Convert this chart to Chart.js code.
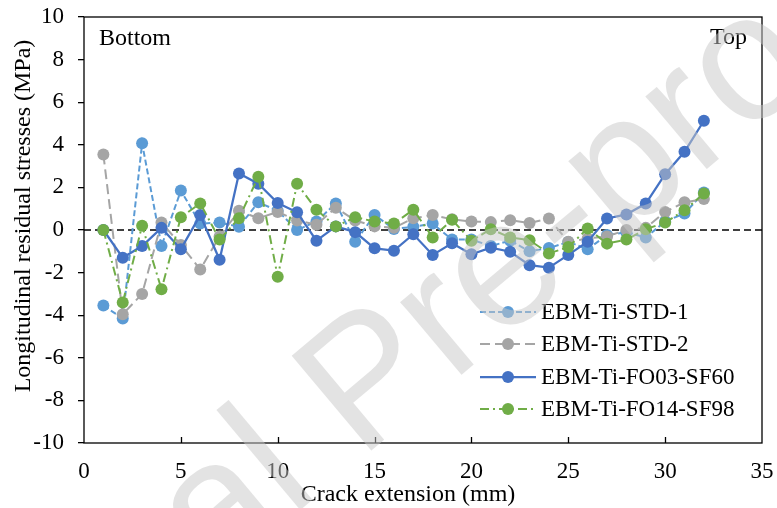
<!DOCTYPE html>
<html>
<head>
<meta charset="utf-8">
<script src="https://cdn.jsdelivr.net/npm/chart.js@4.4.1/dist/chart.umd.min.js"></script>
<style>
  html, body { margin: 0; padding: 0; background: #fff; }
  #wrap { width: 777px; height: 508px; }
</style>
</head>
<body>
<div id="wrap"><canvas id="stressChart" width="777" height="508"></canvas></div>
<script>
// Crack extension positions (mm)
const crackExt = [1, 2, 3, 4, 5, 6, 7, 8, 9, 10, 11, 12, 13, 14, 15, 16,
                  17, 18, 19, 20, 21, 22, 23, 24, 25, 26, 27, 28, 29, 30, 31, 32];

// Longitudinal residual stresses (MPa) per specimen
const std1 = [-3.55, -4.15, 4.07, -0.75, 1.85, 0.3, 0.35, 0.15, 1.3, 0.9, 0.0, 0.4,
              1.25, -0.55, 0.7, 0.05, 0.15, 0.3, -0.45, -0.45, -0.75, -0.5, -1.0, -0.85,
              -0.56, -0.9, -0.24, -0.1, -0.35, 0.4, 0.78, 1.76];
const std2 = [3.55, -3.95, -3.0, 0.35, -0.7, -1.85, -0.3, 0.9, 0.55, 0.85, 0.45, 0.25,
              1.05, 0.45, 0.17, 0.1, 0.55, 0.7, 0.5, 0.4, 0.37, 0.46, 0.33, 0.54,
              -0.55, -0.4, -0.3, 0.0, 0.1, 0.85, 1.3, 1.45];
const fo03 = [0.0, -1.3, -0.75, 0.1, -0.9, 0.7, -1.4, 2.65, 2.17, 1.27, 0.83, -0.5,
              0.17, -0.1, -0.86, -0.97, -0.2, -1.17, -0.62, -1.14, -0.83, -1.02, -1.65, -1.77,
              -1.17, -0.55, 0.54, 0.73, 1.24, 2.62, 3.67, 5.13];
const fo14 = [0.0, -3.4, 0.2, -2.78, 0.6, 1.25, -0.45, 0.55, 2.5, -2.2, 2.17, 0.95,
              0.17, 0.6, 0.4, 0.3, 0.95, -0.35, 0.48, -0.5, 0.04, -0.35, -0.48, -1.1,
              -0.8, 0.07, -0.64, -0.45, 0.04, 0.35, 0.93, 1.71];

const seriesNames = ['EBM-Ti-STD-1', 'EBM-Ti-STD-2', 'EBM-Ti-FO03-SF60', 'EBM-Ti-FO14-SF98'];
const seriesColors = ['#5B9BD5', '#A5A5A5', '#4472C4', '#70AD47'];
const seriesDashes = [[6, 3], [10, 5], [], [9, 4, 2, 4]];

const yTicks = [-10, -8, -6, -4, -2, 0, 2, 4, 6, 8, 10];
const xTicks = [0, 5, 10, 15, 20, 25, 30, 35];

const SERIF = '"Liberation Serif", "Times New Roman", serif';
const MARKER = 6;

function toPoints(values) {
    return crackExt.map((x, i) => ({x: x, y: values[i]}));
}

function makeDataset(idx, values) {
    return {
        label: seriesNames[idx],
        data: toPoints(values),
        borderColor: seriesColors[idx],
        backgroundColor: seriesColors[idx],
        borderWidth: idx === 2 ? 2.25 : 2,
        borderDash: seriesDashes[idx],
        pointRadius: MARKER,
        pointBorderWidth: 0,
        pointBackgroundColor: seriesColors[idx],
        tension: 0,
        order: 3 - idx   // later series on top
    };
}

// no label overhang, so the plot box keeps its fixed size
function fixAxis(size) {
    return scale => {
        if (scale.isHorizontal()) scale.height = size;
        else scale.width = size;
        scale.paddingTop = 0;
        scale.paddingBottom = 0;
        scale.paddingLeft = 0;
        scale.paddingRight = 0;
    };
}

// Frame, zero line, inner x ticks, titles, annotations and legend
const decorPlugin = {
    id: 'decor',
    beforeDatasetsDraw(chart) {
        const ctx = chart.ctx;
        const area = chart.chartArea;
        const y0 = chart.scales.y.getPixelForValue(0);
        ctx.save();
        ctx.strokeStyle = '#000';
        ctx.lineWidth = 1.5;
        ctx.setLineDash([7, 4]);
        ctx.beginPath();
        ctx.moveTo(area.left, y0);
        ctx.lineTo(area.right, y0);
        ctx.stroke();
        ctx.restore();
    },
    afterDatasetsDraw(chart) {
        const ctx = chart.ctx;
        const area = chart.chartArea;
        const xs = chart.scales.x;
        ctx.save();
        ctx.strokeStyle = '#000';
        ctx.lineWidth = 1.3;
        ctx.strokeRect(area.left, area.top, area.right - area.left, area.bottom - area.top);
        // x ticks point into the plot
        ctx.beginPath();
        xTicks.slice(1, -1).forEach(v => {
            const px = Math.round(xs.getPixelForValue(v)) + 0.5;
            ctx.moveTo(px, area.bottom);
            ctx.lineTo(px, area.bottom - 6);
        });
        ctx.stroke();

        ctx.fillStyle = '#000';
        ctx.font = '24px ' + SERIF;
        ctx.textBaseline = 'alphabetic';
        ctx.textAlign = 'left';
        ctx.fillText('Bottom', 99, 45);
        ctx.textAlign = 'right';
        ctx.fillText('Top', 747, 44);

        // axis titles
        ctx.textAlign = 'center';
        ctx.fillText('Crack extension (mm)', 408, 501);
        ctx.save();
        ctx.translate(30, 216);
        ctx.rotate(-Math.PI / 2);
        ctx.fillText('Longitudinal residual stresses (MPa)', 0, 0);
        ctx.restore();

        // legend
        const rows = [312, 344, 377, 409];
        ctx.font = '23px ' + SERIF;
        ctx.textAlign = 'left';
        ctx.textBaseline = 'middle';
        chart.data.datasets.forEach((ds, i) => {
            const y = rows[i];
            ctx.strokeStyle = ds.borderColor;
            ctx.lineWidth = ds.borderWidth;
            ctx.setLineDash(ds.borderDash);
            ctx.beginPath();
            ctx.moveTo(480, y);
            ctx.lineTo(536, y);
            ctx.stroke();
            ctx.setLineDash([]);
            ctx.fillStyle = ds.pointBackgroundColor;
            ctx.beginPath();
            ctx.arc(508, y, MARKER, 0, Math.PI * 2);
            ctx.fill();
            ctx.fillStyle = '#000';
            ctx.fillText(ds.label, 541, y + 1);
        });
        ctx.restore();
    },
    afterDraw(chart) {
        // pale diagonal stamp over the plot
        const ctx = chart.ctx;
        ctx.save();
        ctx.translate(360, 460);
        ctx.rotate(-40 * Math.PI / 180);
        ctx.font = '180px "Liberation Sans", Arial, sans-serif';
        ctx.fillStyle = 'rgba(200, 200, 200, 0.5)';
        ctx.textBaseline = 'alphabetic';
        ctx.textAlign = 'right';
        ctx.fillText('Journal ', 0, 0);
        ctx.textAlign = 'left';
        ctx.fillText('Pre-proof', 0, 0);
        ctx.restore();
    }
};

new Chart(document.getElementById('stressChart'), {
    type: 'line',
    data: {
        datasets: [
            makeDataset(0, std1),
            makeDataset(1, std2),
            makeDataset(2, fo03),
            makeDataset(3, fo14)
        ]
    },
    options: {
        responsive: false,
        animation: false,
        devicePixelRatio: 1,
        layout: {padding: {left: 0, right: 15, top: 17, bottom: 0}},
        plugins: {
            legend: {display: false},
            tooltip: {enabled: false}
        },
        scales: {
            x: {
                type: 'linear',
                min: 0,
                max: 35,
                afterFit: fixAxis(65),
                afterBuildTicks: scale => { scale.ticks = xTicks.map(v => ({value: v})); },
                grid: {display: false, drawTicks: false},
                border: {display: false},
                ticks: {
                    padding: 15,
                    color: '#000',
                    font: {family: SERIF, size: 23}
                }
            },
            y: {
                type: 'linear',
                min: -10,
                max: 10,
                afterFit: fixAxis(84),
                afterBuildTicks: scale => { scale.ticks = yTicks.map(v => ({value: v})); },
                grid: {drawOnChartArea: false, drawTicks: true, tickLength: 6, color: '#000', lineWidth: 1.3},
                border: {display: false},
                ticks: {
                    padding: 14,
                    color: '#000',
                    font: {family: SERIF, size: 23}
                }
            }
        }
    },
    plugins: [decorPlugin]
});
</script>
</body>
</html>
